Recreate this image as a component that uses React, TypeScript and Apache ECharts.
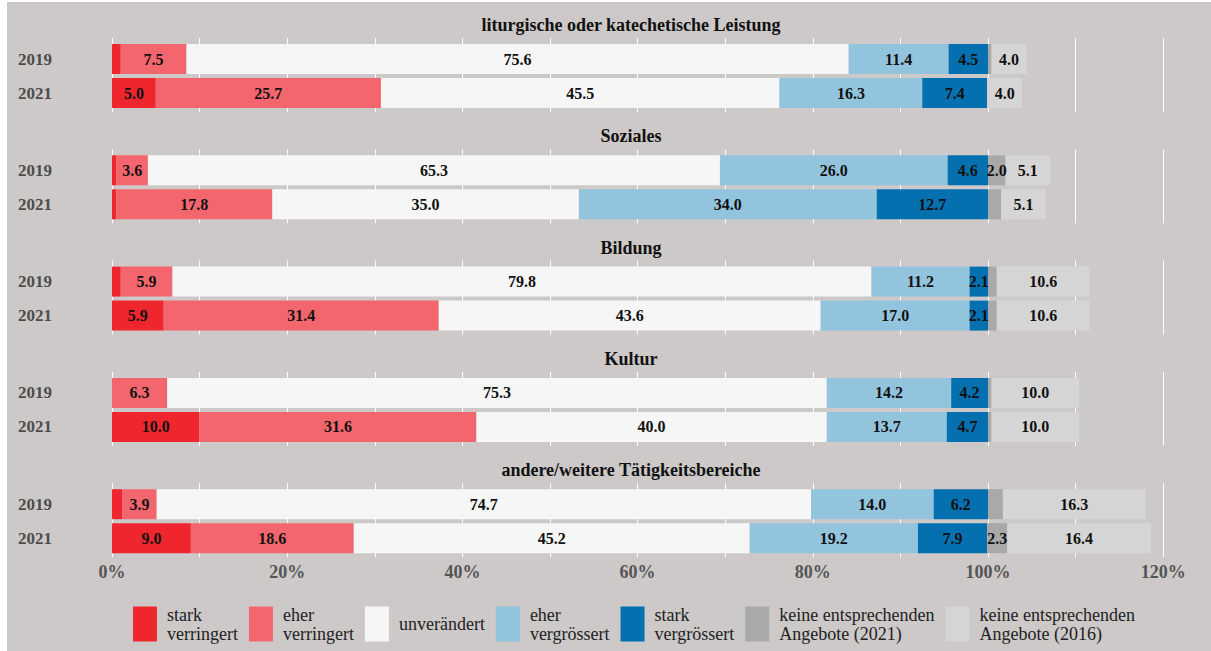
import { useEffect, useRef } from 'react';
import * as echarts from 'echarts';

const PANELS = [
  'liturgische oder katechetische Leistung',
  'Soziales',
  'Bildung',
  'Kultur',
  'andere/weitere Tätigkeitsbereiche',
];
const YEARS = ['2019', '2021'];
const SERIES_NAMES = [
  'stark verringert',
  'eher verringert',
  'unverändert',
  'eher vergrössert',
  'stark vergrössert',
  'keine entsprechenden Angebote (2021)',
  'keine entsprechenden Angebote (2016)',
];
const X_TICK_LABELS = [0, 20, 40, 60, 80, 100, 120];

// values per panel: [2019, 2021]
const starkVerringert = [[1.0, 5.0], [0.5, 0.5], [1.0, 5.9], [0, 10.0], [1.2, 9.0]];
const eherVerringert = [[7.5, 25.7], [3.6, 17.8], [5.9, 31.4], [6.3, 31.6], [3.9, 18.6]];
const unveraendert = [[75.6, 45.5], [65.3, 35.0], [79.8, 43.6], [75.3, 40.0], [74.7, 45.2]];
const eherVergroessert = [[11.4, 16.3], [26.0, 34.0], [11.2, 17.0], [14.2, 13.7], [14.0, 19.2]];
const starkVergroessert = [[4.5, 7.4], [4.6, 12.7], [2.1, 2.1], [4.2, 4.7], [6.2, 7.9]];
const keineAngebote2021 = [[0.4, 0], [2.0, 1.5], [1.0, 1.0], [0.4, 0.4], [1.7, 2.3]];
const keineAngebote2016 = [[4.0, 4.0], [5.1, 5.1], [10.6, 10.6], [10.0, 10.0], [16.3, 16.4]];

const SERIES_VALUES = [
  starkVerringert,
  eherVerringert,
  unveraendert,
  eherVergroessert,
  starkVergroessert,
  keineAngebote2021,
  keineAngebote2016,
];

const COLORS = ['#f0262f', '#f4666e', '#f6f6f6', '#92c4de', '#0570b0', '#a9a9a9', '#d6d5d5'];
const FONT = "'Liberation Serif', 'Times New Roman', serif";

export default function App() {
  const ref = useRef<HTMLDivElement>(null);

  useEffect(() => {
    const chart = echarts.init(ref.current as HTMLDivElement, null, { renderer: 'svg' });
    const LEFT = 112;
    const PX_PER = 8.76;
    const XMAX = 124.6;
    const gridW = XMAX * PX_PER;
    const STEP = 111.3;

    const grids: any[] = [];
    const xAxes: any[] = [];
    const yAxes: any[] = [];
    const series: any[] = [];
    const titles: any[] = [];

    PANELS.forEach((title, k) => {
      const top = 38 + STEP * k;
      const gi = 2 * k;
      const bi = 2 * k + 1;
      grids.push({ left: LEFT, top, width: gridW, height: 74, containLabel: false });
      xAxes.push({
        gridIndex: gi,
        type: 'value',
        min: 0,
        max: XMAX,
        interval: 10,
        axisLine: { show: false },
        axisTick: { show: false },
        splitLine: { show: true, showMinLine: true, showMaxLine: false, lineStyle: { color: '#ffffff', width: 1 } },
        axisLabel:
          k === PANELS.length - 1
            ? {
                show: true,
                margin: 6,
                showMaxLabel: false,
                fontFamily: FONT,
                fontWeight: 'bold',
                fontSize: 18,
                color: '#555555',
                formatter: (v: number) => (X_TICK_LABELS.includes(v) ? v + '%' : ''),
              }
            : { show: false },
      });
      yAxes.push({ gridIndex: gi, type: 'category', data: [''], show: false });

      grids.push({ left: LEFT, top: top + 4, width: gridW, height: 68, containLabel: false });
      xAxes.push({ gridIndex: bi, type: 'value', min: 0, max: XMAX, show: false, splitLine: { show: false } });
      yAxes.push({
        gridIndex: bi,
        type: 'category',
        data: YEARS,
        inverse: true,
        axisLine: { show: false },
        axisTick: { show: false },
        splitLine: { show: false },
        axisLabel: {
          margin: 60,
          fontFamily: FONT,
          fontWeight: 'bold',
          fontSize: 17,
          color: '#4d4d4d',
        },
      });

      SERIES_NAMES.forEach((name, s) => {
        series.push({
          type: 'bar',
          name,
          stack: 'panel' + k,
          xAxisIndex: bi,
          yAxisIndex: bi,
          barWidth: 30,
          itemStyle: { color: COLORS[s] },
          label: {
            show: true,
            position: 'inside',
            fontFamily: FONT,
            fontWeight: 'bold',
            fontSize: 16,
            color: '#111111',
            formatter: (p: any) => (p.value >= 2 ? Number(p.value).toFixed(1) : ''),
          },
          data: SERIES_VALUES[s][k],
        });
      });

      titles.push({
        text: title,
        left: 631,
        top: 25 + STEP * k - 9,
        textAlign: 'center',
        padding: 0,
        textStyle: { fontFamily: FONT, fontWeight: 'bold', fontSize: 18, color: '#111111' },
      });
    });

    chart.setOption({
      animation: false,
      backgroundColor: 'transparent',
      title: titles,
      grid: grids,
      xAxis: xAxes,
      yAxis: yAxes,
      series,
      legend: {
        data: SERIES_NAMES,
        selectedMode: false,
        orient: 'horizontal',
        left: 133,
        top: 605,
        padding: 0,
        itemWidth: 24,
        itemHeight: 35,
        itemGap: 11,
        icon: 'rect',
        formatter: (name: string) =>
          name.includes(' Angebote') ? name.replace(' Angebote', '\nAngebote') : name.replace(' ', '\n'),
        textStyle: {
          fontFamily: FONT,
          fontSize: 18,
          lineHeight: 19,
          color: '#222222',
          padding: [0, 0, 0, 5],
        },
      },
    });

    return () => chart.dispose();
  }, []);

  return (
    <div style={{ position: 'absolute', left: 0, top: 0, width: 1211, height: 651, background: '#ffffff' }}>
      <div style={{ position: 'absolute', left: 7, top: 2, right: 0, bottom: 0, background: '#ccc9c8' }} />
      <div ref={ref} style={{ position: 'absolute', left: 0, top: 0, width: 1211, height: 651 }} />
    </div>
  );
}
